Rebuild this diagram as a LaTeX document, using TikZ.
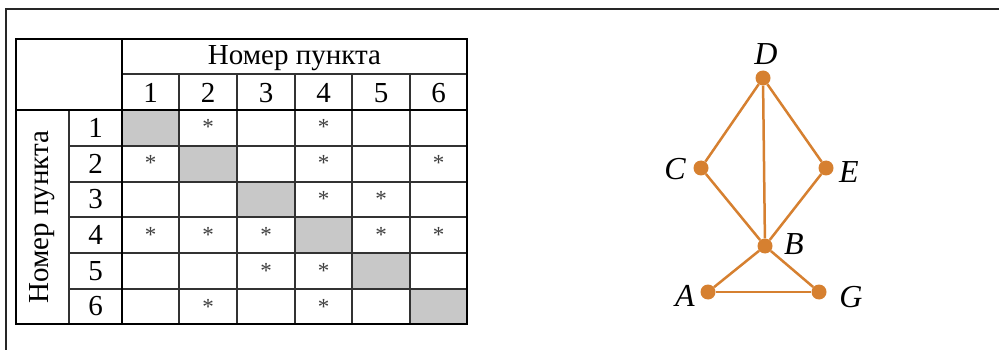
\documentclass[tikz,border=0pt]{standalone}
\usepackage{fontspec}
\setmainfont{Liberation Serif}
\definecolor{edgeorange}{RGB}{214,128,48}
\definecolor{cellgray}{RGB}{200,200,200}
\definecolor{thinline}{RGB}{50,50,50}
\tikzset{
  thin grid/.style={draw=thinline, line width=1.4pt},
  thick grid/.style={draw=black, line width=2.8pt},
  txt/.style={inner sep=0pt, font=\fontsize{29}{33}\selectfont},
  star/.style={inner sep=0pt, font=\fontsize{23}{26}\selectfont, anchor=base, text=black!75},
  vertex/.style={circle, fill=edgeorange, minimum size=15pt, inner sep=0pt},
  vlabel/.style={inner sep=0pt, font=\fontsize{32}{36}\selectfont\itshape},
  edge/.style={draw=edgeorange, line width=2.5pt}
}
\begin{document}
\begin{tikzpicture}[x=1pt,y=-1pt]
\useasboundingbox (0,0) rectangle (999,350);
\fill[white] (0,0) rectangle (999,350);
% frame
\draw[line width=2.6pt, draw=black!85] (6,352) -- (6,9) -- (1001,9);
% gray diagonal cells
\fill[cellgray] (122,110) rectangle (179,146);
\fill[cellgray] (179,146) rectangle (237,182);
\fill[cellgray] (237,182) rectangle (295,217);
\fill[cellgray] (295,217) rectangle (352,253);
\fill[cellgray] (352,253) rectangle (410,289);
\fill[cellgray] (410,289) rectangle (467,324);
% thin grid lines
\draw[thin grid] (69,110) -- (69,324);
\foreach \x in {179,237,295,352,410} \draw[thin grid] (\x,74) -- (\x,324);
\draw[thin grid] (122,74) -- (467,74);
\foreach \y in {146,182,217,253,289} \draw[thin grid] (69,\y) -- (467,\y);
% thick lines
\draw[thick grid] (16,39) rectangle (467,324);
\draw[thick grid] (122,39) -- (122,324);
\draw[thick grid] (16,110) -- (467,110);
% headers
\node[txt] (colhead) at (294.5,58) {Номер пункта};
\node[txt, rotate=90] (rowhead) at (42,217) {Номер пункта};
\foreach \t/\x in {1/150.5,2/208,3/266,4/323.5,5/381,6/438.5}
  \node[txt] (c\t) at (\x,93) {\t};
\foreach \t/\y in {1/128,2/164,3/199.5,4/235,5/271,6/306.5}
  \node[txt] (r\t) at (95.5,\y) {\t};
% asterisks (row/col)
\foreach \r/\c in {1/2,1/4,2/1,2/4,2/6,3/4,3/5,4/1,4/2,4/3,4/5,4/6,5/3,5/4,6/2,6/4}{
  \pgfmathsetmacro{\xx}{{0,150.5,208,266,323.5,381,438.5}[\c]}
  \pgfmathsetmacro{\yy}{{0,110,146,182,217,253,289}[\r]+25}
  \node[star] (s\r\c) at (\xx,\yy) {*};
}
% graph
\node[vertex] (D) at (763,78) {};
\node[vertex] (C) at (701,168) {};
\node[vertex] (E) at (826,168) {};
\node[vertex] (B) at (765,246) {};
\node[vertex] (A) at (708,292) {};
\node[vertex] (G) at (819,292) {};
\draw[edge] (D) -- (C);
\draw[edge] (D) -- (E);
\draw[edge] (D) -- (B);
\draw[edge] (C) -- (B);
\draw[edge] (E) -- (B);
\draw[edge] (B) -- (A);
\draw[edge] (B) -- (G);
\draw[edge] (A) -- (G);
\node[vlabel] (lD) at (766,54) {D};
\node[vlabel] (lC) at (675,169) {C};
\node[vlabel] (lE) at (849,172) {E};
\node[vlabel] (lB) at (794,244) {B};
\node[vlabel] (lA) at (685,296) {A};
\node[vlabel] (lG) at (851,297) {G};
\end{tikzpicture}
\end{document}
